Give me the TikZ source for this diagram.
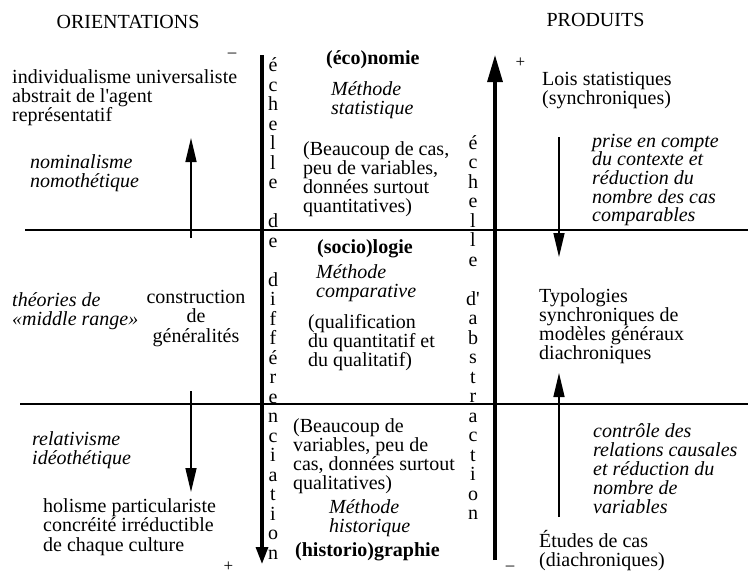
\documentclass[tikz,border=0pt]{standalone}
\usepackage{fontspec}
\setmainfont{Liberation Serif}
\usetikzlibrary{arrows.meta}
\begin{document}
\begin{tikzpicture}[x=1pt,y=-1pt,
  txt/.style={inner sep=0pt, anchor=base west, align=left, font=\fontsize{20}{19}\selectfont},
  itx/.style={txt, font=\fontsize{20}{19}\selectfont\itshape},
  bfx/.style={txt, font=\fontsize{20}{19}\selectfont\bfseries},
  col/.style={inner sep=0pt, anchor=base, align=center, font=\fontsize{20}{19.5}\selectfont},
  sign/.style={inner sep=0pt, anchor=center, font=\fontsize{17}{17}\selectfont},
  rule/.style={line width=1.6pt},
  thin/.style={line width=1.5pt, -{Triangle[length=24pt,width=11pt]}},
  thickL/.style={line width=3.2pt, -{Triangle[length=17pt,width=12pt]}},
  thickR/.style={line width=3.2pt, -{Triangle[length=27pt,width=15pt]}}
]
\useasboundingbox (0,0) rectangle (748,573);

% headings (single line: anchor at baseline)
\node[txt, anchor=base] (orient) at (128,28) {ORIENTATIONS};
\node[txt, anchor=base] (prod) at (595.5,26) {PRODUITS};

% horizontal rules
\coordinate (h1a) at (25,230);
\coordinate (h1b) at (748,230);
\coordinate (h2a) at (20,404);
\coordinate (h2b) at (748,404);
\draw[rule] (h1a) -- (h1b);
\draw[rule] (h2a) -- (h2b);

% thick axes
\coordinate (la) at (262,55);
\coordinate (lb) at (262,564);
\draw[thickL] (la) -- (lb);
\coordinate (ra) at (495,560);
\coordinate (rb) at (495,55);
\draw[thickR] (ra) -- (rb);

% signs
\node[sign] (m1) at (232,55) {\textendash};
\node[sign] (p1) at (228.5,566.5) {+};
\node[sign] (p2) at (520.5,63) {+};
\node[sign] (m2) at (510,568) {\textendash};

% thin arrows
\coordinate (a1s) at (191,238);
\coordinate (a1e) at (191,138);
\draw[thin] (a1s) -- (a1e);
\coordinate (a2s) at (191,391);
\coordinate (a2e) at (191,492);
\draw[thin] (a2s) -- (a2e);
\coordinate (a3s) at (559,137);
\coordinate (a3e) at (559,257);
\draw[thin] (a3s) -- (a3e);
\coordinate (a4s) at (559,517);
\coordinate (a4e) at (559,373);
\draw[thin] (a4s) -- (a4e);

% vertical letter columns (multi-line nodes: anchor at baseline of last line)
\node[col] (vl) at (273,559) {é\\c\\h\\e\\l\\l\\e\\~\\d\\e\\~\\d\\i\\f\\f\\é\\r\\e\\n\\c\\i\\a\\t\\i\\o\\n};
\node[col] (vr) at (473,519.5) {é\\c\\h\\e\\l\\l\\e\\~\\d\textquotesingle\\a\\b\\s\\t\\r\\a\\c\\t\\i\\o\\n};

% left column
\node[txt, font=\fontsize{20}{18.3}\selectfont] (indiv) at (12,121.6) {individualisme universaliste\\abstrait de l\textquotesingle agent\\représentatif};
\node[itx] (nomin) at (30,187) {nominalisme\\nomothétique};
\node[itx] (theo) at (12,325) {théories de\\«middle range»};
\node[txt, anchor=base, align=center, font=\fontsize{20}{19.5}\selectfont] (constr) at (196,342) {construction\\de\\généralités};
\node[itx] (relat) at (32,464) {relativisme\\idéothétique};
\node[txt, font=\fontsize{20}{19.5}\selectfont] (holis) at (43,551) {holisme particulariste\\concréité irréductible\\de chaque culture};

% middle column
\node[bfx] (eco) at (326,64) {(éco)nomie};
\node[itx] (mstat) at (331,114) {Méthode\\statistique};
\node[txt, font=\fontsize{20}{19.3}\selectfont] (beau1) at (303,212.9) {(Beaucoup de cas,\\peu de variables,\\données surtout\\quantitatives)};
\node[bfx] (socio) at (317,253) {(socio)logie};
\node[itx] (mcomp) at (316,297) {Méthode\\comparative};
\node[txt, font=\fontsize{20}{19.3}\selectfont] (qual) at (308,366.6) {(qualification\\du quantitatif et\\du qualitatif)};
\node[txt] (beau2) at (293,489) {(Beaucoup de\\variables, peu de\\cas, données surtout\\qualitatives)};
\node[itx] (mhist) at (329,532) {Méthode\\historique};
\node[bfx] (histo) at (295,556) {(historio)graphie};

% right column
\node[txt] (lois) at (542,104) {Lois statistiques\\(synchroniques)};
\node[itx, font=\fontsize{20}{18.7}\selectfont\itshape] (prise) at (592,221.8) {prise en compte\\du contexte et\\réduction du\\nombre des cas\\comparables};
\node[txt] (typo) at (539,359) {Typologies\\synchroniques de\\modèles généraux\\diachroniques};
\node[itx, font=\fontsize{20}{19.2}\selectfont\itshape] (ctrl) at (593,513.8) {contrôle des\\relations causales\\et réduction du\\nombre de\\variables};
\node[txt] (etud) at (539,566) {Études de cas\\(diachroniques)};
\end{tikzpicture}
\end{document}
